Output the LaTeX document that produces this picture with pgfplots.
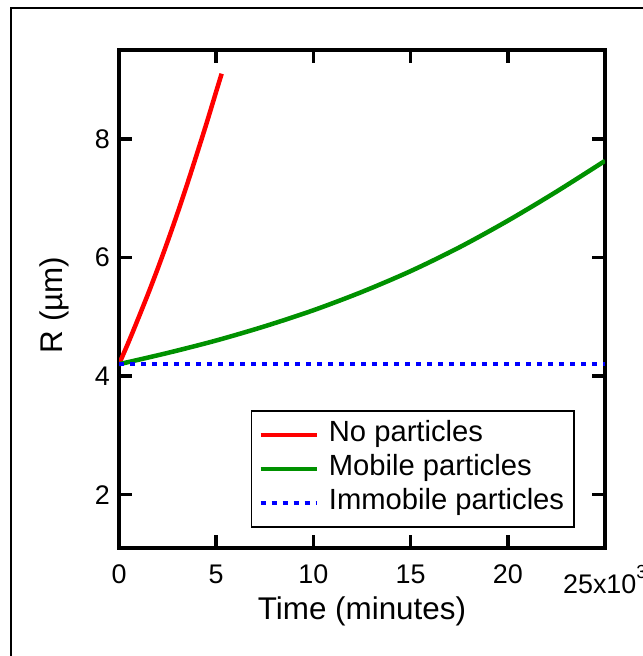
\documentclass[border=0pt]{standalone}
\usepackage{pgfplots}
\pgfplotsset{compat=1.18}
\usepackage{fontspec}
\setmainfont{Liberation Sans}
\definecolor{curvered}{RGB}{255,0,0}
\definecolor{curvegreen}{RGB}{0,145,0}
\definecolor{curveblue}{RGB}{0,0,255}

\begin{document}
\begin{tikzpicture}[x=1bp,y=1bp]
\path[use as bounding box] (0,0) rectangle (643,656);
% outer frame (left and top edges)
\draw[line width=2.3bp] (11,-10) -- (11,648) -- (660,648);
\begin{axis}[
  at={(119bp,108bp)}, anchor=south west,
  scale only axis, width=486bp, height=498bp,
  xmin=0, xmax=25, ymin=1.1, ymax=9.5,
  axis line style={line width=4bp, line cap=rect},
  tick align=inside,
  major tick length=13bp,
  tick style={line width=3.5bp, black},
  xtick={0,5,10,15,20},
  ytick={2,4,6,8},
  extra x ticks={25},
  extra x tick labels={25x10\raisebox{15bp}{\fontsize{19}{20}\selectfont 3}},
  /pgf/number format/assume math mode=true,
  ticklabel style={font=\fontsize{27}{30}\selectfont, inner sep=0pt},
  xticklabel shift=17bp,
  yticklabel shift=9bp,
  xlabel={Time (minutes)},
  ylabel={R (µm)},
  label style={font=\fontsize{31.5}{34}\selectfont, inner sep=0pt},
  xlabel style={at={(axis description cs:0.5,-0.0984)}, anchor=north},
  ylabel style={at={(axis description cs:-0.1626,0.488)}, anchor=north},
  legend style={at={(0.938,0.277)}, anchor=north east, draw=black,
    line width=1.5bp, inner sep=7bp, column sep=7bp, row sep=0pt,
    font=\fontsize{29.3}{31}\selectfont,
    nodes={inner sep=3bp, text height=21bp, text depth=7bp}},
  legend cell align=left,
  legend image code/.code={\draw[#1] (0bp,0bp) -- (56bp,0bp);},
]
\addplot[curvered, line width=4.5bp, smooth] coordinates {
  (0,4.2) (0.5,4.58) (1,4.98) (1.5,5.39) (2,5.82) (2.5,6.27) (3,6.74)
  (3.5,7.23) (4,7.74) (4.5,8.26) (5,8.8) (5.28,9.1)};
\addlegendentry{No particles}
\addplot[curvegreen, line width=4.5bp, smooth] coordinates {
  (0,4.2) (2.5,4.39) (5,4.6) (7.5,4.84) (10,5.11) (12.5,5.42) (15,5.77)
  (17.5,6.17) (20,6.62) (22.5,7.11) (25,7.63)};
\addlegendentry{Mobile particles}
\addplot[curveblue, line width=4.5bp, dash pattern=on 5bp off 6bp] coordinates {
  (0,4.2) (25,4.2)};
\addlegendentry{Immobile particles}
\end{axis}
\end{tikzpicture}
\end{document}
